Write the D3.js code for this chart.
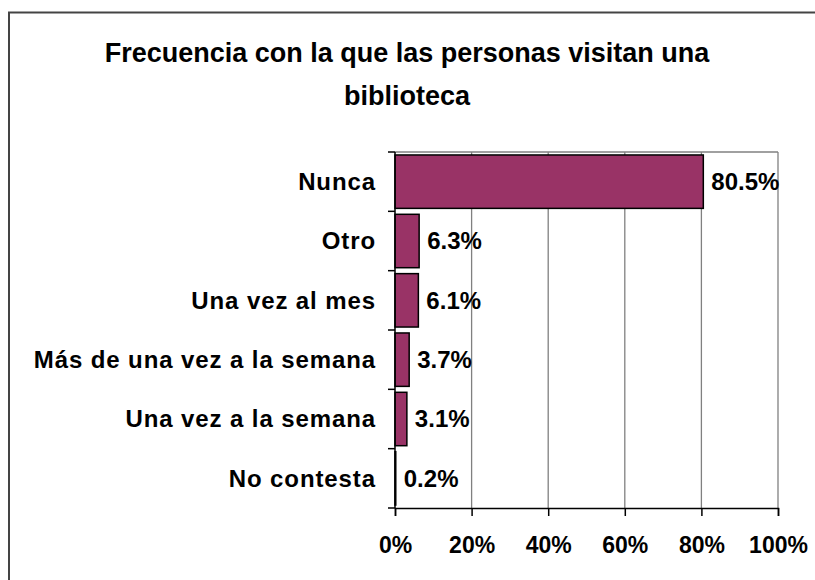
<!DOCTYPE html>
<html>
<head>
<meta charset="utf-8">
<script src="https://cdn.jsdelivr.net/npm/d3@7"></script>
<style>
  body { margin: 0; background: #fff; }
  text { font-family: Arial, "Liberation Sans", sans-serif; font-weight: bold; fill: #000; }
</style>
</head>
<body>
<div id="chart-area"></div>
<script>
/*
*   horizontal bar chart
*/
let categories = ["Nunca", "Otro", "Una vez al mes", "Más de una vez a la semana", "Una vez a la semana", "No contesta"];
let values = [80.5, 6.3, 6.1, 3.7, 3.1, 0.2];
let tickValues = [0, 20, 40, 60, 80, 100];
let titleLines = ["Frecuencia con la que las personas visitan una", "biblioteca"];

let data = categories.map(function(c, i){ return {cat: c, value: values[i]}; });

let margin = {left: 395, right: 37, top: 152, bottom: 72};
let width = 815 - margin.left - margin.right;
let height = 580 - margin.top - margin.bottom;

let svg = d3.select("#chart-area")
            .append("svg")
            .attr("width", 815)
            .attr("height", 580);

// outer frame
svg.append("rect")
    .attr("x", 9)
    .attr("y", 12.5)
    .attr("width", 900)
    .attr("height", 700)
    .attr("fill", "none")
    .attr("stroke", "#444")
    .attr("stroke-width", 2);

// title
svg.selectAll(".title")
    .data(titleLines)
    .enter().append("text")
    .attr("class", "title")
    .attr("x", 407)
    .attr("y", function(d, i){ return 62 + i * 43; })
    .attr("text-anchor", "middle")
    .attr("font-size", "27px")
    .text(function(d){ return d; });

let g = svg.append("g")
            .attr("transform", "translate(" + margin.left + "," + margin.top + ")");

let x = d3.scaleLinear()
        .domain([0, 100])
        .range([0, width]);

let y = d3.scaleBand()
        .domain(categories)
        .range([0, height])
        .paddingInner(0.1)
        .paddingOuter(0.05);

// gridlines
g.selectAll(".grid")
    .data(tickValues.slice(1))
    .enter().append("line")
    .attr("class", "grid")
    .attr("x1", function(d){ return x(d); })
    .attr("x2", function(d){ return x(d); })
    .attr("y1", 0)
    .attr("y2", height)
    .attr("stroke", "#808080")
    .attr("stroke-width", 1.3);

// top edge of plot
g.append("line")
    .attr("x1", 0).attr("x2", width)
    .attr("y1", 0).attr("y2", 0)
    .attr("stroke", "#808080")
    .attr("stroke-width", 1.3);

// bars
g.selectAll("rect.bar")
    .data(data)
    .enter().append("rect")
    .attr("class", "bar")
    .attr("x", x(0))
    .attr("y", function(d){ return y(d.cat); })
    .attr("width", function(d){ return x(d.value) - x(0); })
    .attr("height", y.bandwidth())
    .attr("fill", "#993366")
    .attr("stroke", "#000")
    .attr("stroke-width", 1.5);

// value labels
g.selectAll(".val")
    .data(data)
    .enter().append("text")
    .attr("class", "val")
    .attr("x", function(d){ return x(d.value) + 8; })
    .attr("y", function(d){ return y(d.cat) + y.bandwidth() / 2; })
    .attr("dy", "0.35em")
    .attr("font-size", "24px")
    .text(function(d){ return d.value.toFixed(1) + "%"; });

// x axis
let xAxis = d3.axisBottom(x)
                .tickValues(tickValues)
                .tickSize(8)
                .tickPadding(21)
                .tickFormat(function(d){ return d + "%"; });

let xAxis_group = g.append("g")
    .attr("class", "x axis")
    .attr("transform", "translate(0, " + height + ")")
    .call(xAxis);

xAxis_group.select(".domain").attr("stroke", "#000").attr("stroke-width", 1.5);
xAxis_group.selectAll(".tick line").attr("stroke", "#000").attr("stroke-width", 1.5);
xAxis_group.selectAll(".tick text")
    .attr("font-size", "23px")
    .attr("font-family", null);

// y axis (ticks on band boundaries)
g.append("line")
    .attr("x1", 0).attr("x2", 0)
    .attr("y1", 0).attr("y2", height)
    .attr("stroke", "#000")
    .attr("stroke-width", 1.5);

let bounds = categories.map(function(c){ return y(c) - y.step() * y.paddingInner() / 2; });
bounds[0] = 0;
bounds.push(height);

g.selectAll(".ytick")
    .data(bounds)
    .enter().append("line")
    .attr("class", "ytick")
    .attr("x1", -7).attr("x2", 0)
    .attr("y1", function(d){ return d; })
    .attr("y2", function(d){ return d; })
    .attr("stroke", "#000")
    .attr("stroke-width", 1.5);

// category labels
g.selectAll(".cat")
    .data(data)
    .enter().append("text")
    .attr("class", "cat")
    .attr("x", -19)
    .attr("y", function(d){ return y(d.cat) + y.bandwidth() / 2; })
    .attr("dy", "0.35em")
    .attr("text-anchor", "end")
    .attr("font-size", "24px")
    .attr("letter-spacing", "0.9px")
    .text(function(d){ return d.cat; });
</script>
</body>
</html>
